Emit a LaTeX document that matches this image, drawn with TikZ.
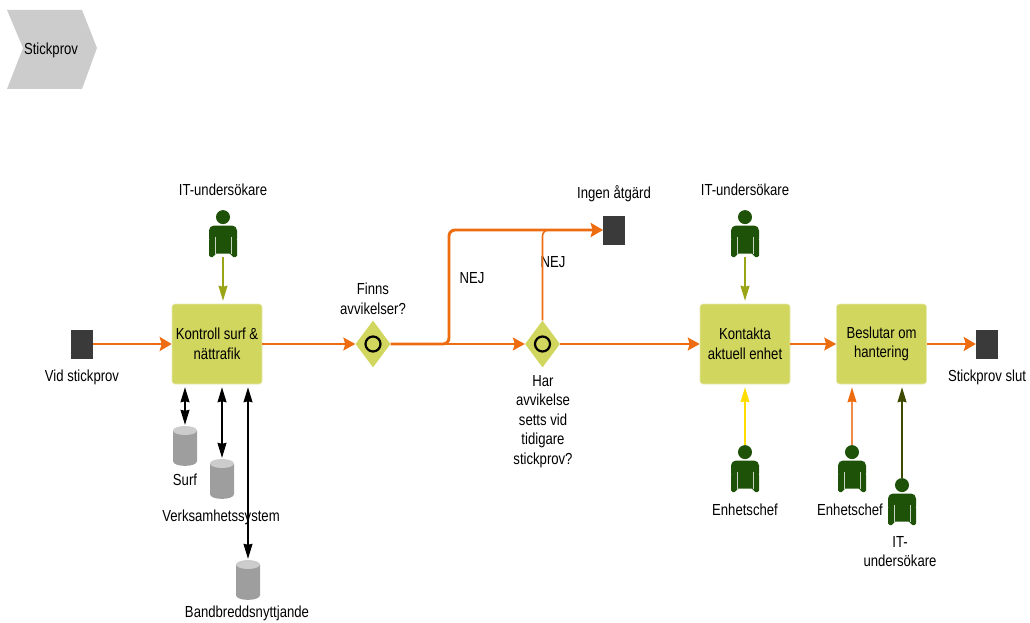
\documentclass[tikz,border=0pt]{standalone}
\usepackage{fontspec}
\setmainfont[FakeStretch=0.82]{Liberation Sans}
\usepackage{tikz}
\usetikzlibrary{arrows.meta}
\usetikzlibrary{shapes.geometric}
\definecolor{boxgreen}{HTML}{D0D65E}
\definecolor{flowor}{HTML}{EE6C10}
\definecolor{paleor}{HTML}{F08A48}
\definecolor{persongreen}{HTML}{1E5208}
\definecolor{olivearrow}{HTML}{9AA516}
\definecolor{darkolive}{HTML}{3D4A00}
\definecolor{signalyellow}{HTML}{FFDD00}
\definecolor{eventgrey}{HTML}{3A3A3A}
\tikzset{
	txt/.style={inner sep=0pt, align=center, font=\fontsize{16}{19.6}\selectfont},
	lbl/.style={txt, yshift=-0.5pt},
	task/.style={txt, fill=boxgreen, draw=boxgreen!50!white, line width=0.6pt, rounded corners=3pt, minimum width=90pt, minimum height=80pt},
	event/.style={fill=eventgrey, inner sep=0pt, minimum width=22pt, minimum height=29pt},
	gate/.style={diamond, fill=boxgreen, inner sep=0pt, aspect=0.72, minimum width=35pt, minimum height=47pt,
		path picture={\draw[black, line width=2.2pt] (0,0) circle (7.5pt);}},
	store/.style={inner sep=0pt, minimum width=24pt, minimum height=40pt,
		path picture={
			\fill[black!38] (-12,-15) -- (-12,15) .. controls (-12,21.5) and (12,21.5) .. (12,15) -- (12,-15) -- cycle;
			\fill[black!20] (0,-15.5) ellipse (12pt and 4.5pt);
		}},
	person/.style={inner sep=0pt, minimum width=28pt, minimum height=47pt,
		path picture={
			\fill[persongreen] (0,-16.4) circle (7pt);
			\fill[persongreen, rounded corners=5pt] (-14,10) -- (-14,-8) -- (14,-8) -- (14,10) -- cycle;
			\fill[persongreen, rounded corners=1.5pt] (-14,5) -- (-14,23.5) -- (-9,23.5) -- (-8,20) -- (8,20) -- (9,23.5) -- (14,23.5) -- (14,5) -- cycle;
			\draw[white!75!persongreen, line width=0.4pt] (-8,3) -- (-8,20) (8,3) -- (8,20);
		}},
	flowthin/.style={flowor, line width=1.6pt, -{Stealth[length=12pt, width=13pt, inset=2pt]}},
	flowthick/.style={flowor, line width=2.9pt, -{Stealth[length=12pt, width=14pt, inset=2pt]}},
	resource/.style={line width=1.3pt, shorten >=3pt, -{Stealth[length=15pt, width=9pt, inset=1pt]}},
	datalink/.style={black, line width=1.2pt, {Stealth[length=15pt, width=9pt, inset=1pt]}-{Stealth[length=15pt, width=9pt, inset=1pt]}, shorten <=3pt, shorten >=1pt}
}
\begin{document}
\begin{tikzpicture}[x=1pt, y=-1pt]
	\useasboundingbox (0,0) rectangle (1030,623);
	
	\fill[black!20] (7,10) -- (82,10) -- (97,48) -- (82,89) -- (7,89) -- (23,48) -- cycle;
	\node[lbl] (title) at (51,50) {Stickprov};
	
	\node[event] (start) at (82,344) {};
	\node[event] (none) at (614,230) {};
	\node[event] (end) at (987,344) {};
	\node[lbl] (startl) at (82,377) {Vid stickprov};
	\node[lbl] (nonel) at (614,193) {Ingen åtgärd};
	\node[lbl] (endl) at (987,377) {Stickprov slut};
	
	\node[task] (surfbox) at (217,344) {Kontroll surf \&\\nättrafik};
	\node[task] (contact) at (745,344) {Kontakta\\aktuell enhet};
	\node[task] (decide) at (881.5,344) {Beslutar om\\hantering};
	
	\node[gate] (gatea) at (373,344) {};
	\node[gate] (gateb) at (542.5,344) {};
	\node[lbl] (gateal) at (373,298.5) {Finns\\avvikelser?};
	\node[lbl] (gatebl) at (543,421) {Har\\avvikelse\\setts vid\\tidigare\\stickprov?};
	\node[lbl] (neja) at (472,278) {NEJ};
	\node[lbl] (nejb) at (553,262) {NEJ};
	
	\node[person] (ita) at (223,233.5) {};
	\node[person] (itb) at (745,233.5) {};
	\node[person] (chefa) at (745,468.5) {};
	\node[person] (chefb) at (852,468.5) {};
	\node[person] (itc) at (902,501.5) {};
	\node[lbl] (ital) at (223,189) {IT-undersökare};
	\node[lbl] (itbl) at (745,189) {IT-undersökare};
	\node[lbl] (chefal) at (745,509) {Enhetschef};
	\node[lbl] (chefbl) at (850,509) {Enhetschef};
	\node[lbl] (itcl) at (900,551) {IT-\\undersökare};
	
	\node[store] (surf) at (185,446) {};
	\node[store] (verk) at (222,479) {};
	\node[store] (band) at (248,580) {};
	\node[lbl] (surfl) at (185,479) {Surf};
	\node[lbl] (verkl) at (221,517) {Verksamhetssystem};
	\node[lbl] (bandl) at (247,613) {Bandbreddsnyttjande};
	
	\draw[flowthick] (start) -- (surfbox);
	\draw[flowthin] (surfbox) -- (gatea);
	\draw[flowthin] (gatea) -- (gateb);
	\draw[flowthin] (gateb) -- (contact);
	\draw[flowthin] (contact) -- (decide);
	\draw[flowthick] (decide) -- (end);
	\draw[flowthick, rounded corners=6pt] (gatea.east) -- (449,344) -- (449,230) -- (none.west);
	\draw[flowthin, rounded corners=6pt] (gateb.north) -- (542.5,230) -- (none.west);
	
	\draw[resource, olivearrow] (ita.south) -- (ita.south |- surfbox.north);
	\draw[resource, olivearrow] (itb.south) -- (itb.south |- contact.north);
	\draw[resource, signalyellow] (chefa.north) -- (chefa.north |- contact.south);
	\draw[resource, paleor, -{Stealth[length=15pt, width=9pt, inset=1pt, flowor]}] (chefb.north) -- (chefb.north |- decide.south);
	\draw[resource, darkolive] (itc.north) -- (itc.north |- decide.south);
	
	\draw[datalink] (surf.north |- surfbox.south) -- (surf.north);
	\draw[datalink] (verk.north |- surfbox.south) -- (verk.north);
	\draw[datalink] (band.north |- surfbox.south) -- (band.north);
\end{tikzpicture}
\end{document}
